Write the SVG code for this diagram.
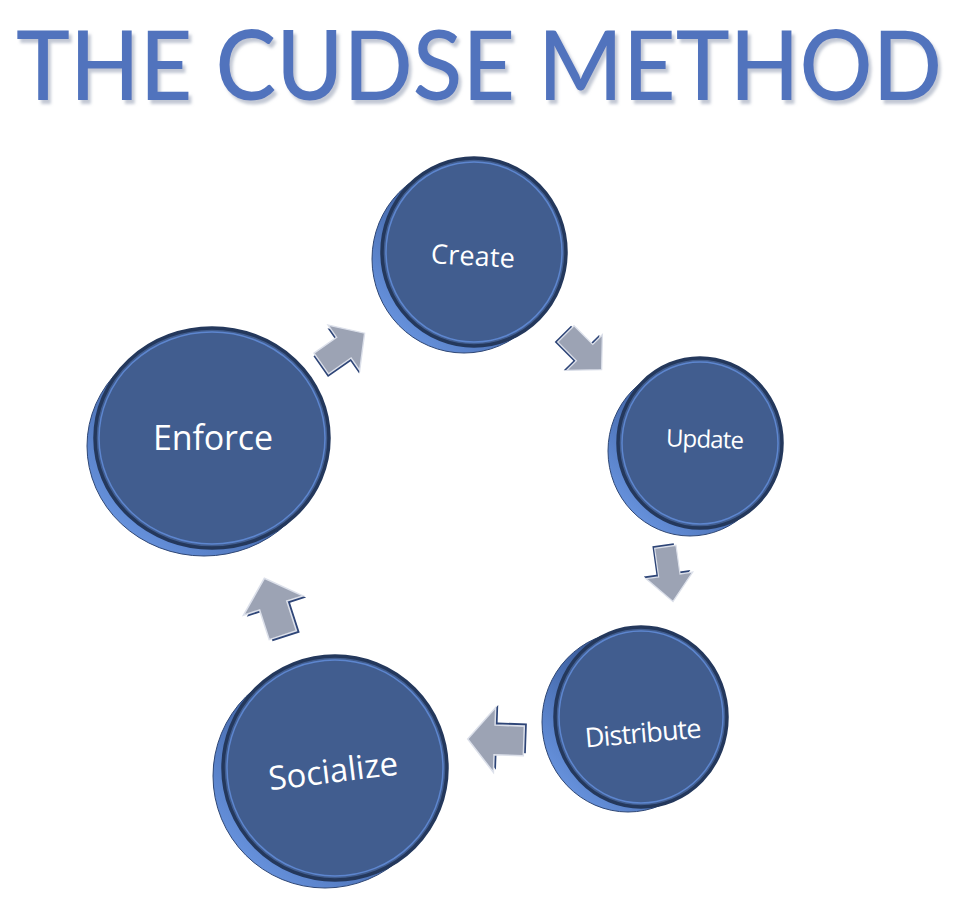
<svg xmlns="http://www.w3.org/2000/svg" width="975" height="908" viewBox="0 0 975 908">
<defs>
<linearGradient id="rimGrad" x1="1" y1="0" x2="0" y2="1">
<stop offset="0" stop-color="#22365B"/>
<stop offset="0.45" stop-color="#3F62A3"/>
<stop offset="1" stop-color="#74A2F0"/>
</linearGradient>
<filter id="titleShadow" x="-5%" y="-20%" width="110%" height="150%">
<feDropShadow dx="3" dy="4" stdDeviation="1.5" flood-color="#9AA3B8" flood-opacity="0.6"/>
</filter>
<path id="arrowShape" d="M-22,-11 L2,-11 L2,-24 L24,0 L2,24 L2,11 L-22,11 Z"/>
</defs>
<style>
.rim{fill:url(#rimGrad);stroke:#2F4775;stroke-width:1}
.face{fill:#415D8F;stroke:#24385C;stroke-width:3.5}
.bevel{fill:none;stroke:#5D86CF;stroke-width:1.5}
.lbl{fill:#FFFFFF;font-family:"Open Sans","Noto Sans","DejaVu Sans",sans-serif;text-anchor:middle;dominant-baseline:central}
.arrShadow{fill:#2E4577}
.arr{fill:#9CA3B4;stroke:#DCE0EA;stroke-width:1.2}
.title{font-family:Lato,"Open Sans","DejaVu Sans",sans-serif;font-size:97px;font-weight:500}
</style>
<rect width="975" height="908" fill="#FFFFFF"/>
<g id="title">
<text class="title" x="16" y="100" fill="#5173BD" filter="url(#titleShadow)" textLength="926" lengthAdjust="spacingAndGlyphs">THE CUDSE METHOD</text>
</g>
<g id="connectors">
<g transform="translate(342,349) rotate(-35) scale(1.15,1.15)"><use href="#arrowShape" class="arrShadow" x="-2" y="2"/><use href="#arrowShape" class="arr"/></g>
<g transform="translate(583,351) rotate(45) scale(1.1,1.05)"><use href="#arrowShape" class="arrShadow" x="-2" y="2"/><use href="#arrowShape" class="arr"/></g>
<g transform="translate(669,573) rotate(82) scale(1.2,0.98)"><use href="#arrowShape" class="arrShadow" x="-2" y="2"/><use href="#arrowShape" class="arr"/></g>
<g transform="translate(497,740) rotate(182) scale(1.22,1.35)"><use href="#arrowShape" class="arrShadow" x="-2" y="2"/><use href="#arrowShape" class="arr"/></g>
<g transform="translate(274,608) rotate(-108) scale(1.3,1.3)"><use href="#arrowShape" class="arrShadow" x="-2" y="2"/><use href="#arrowShape" class="arr"/></g>
</g>
<g id="node-create">
<ellipse class="rim" cx="464" cy="259" rx="92" ry="94"/>
<ellipse class="face" cx="474" cy="252" rx="92" ry="94"/>
<ellipse class="bevel" cx="474" cy="252" rx="88" ry="90"/>
<text class="lbl" x="473" y="255" font-size="27" textLength="84" transform="rotate(3 473 255)">Create</text>
</g>
<g id="node-update">
<ellipse class="rim" cx="690" cy="451" rx="82" ry="85"/>
<ellipse class="face" cx="700" cy="443" rx="82" ry="85"/>
<ellipse class="bevel" cx="700" cy="443" rx="78" ry="81"/>
<text class="lbl" x="705" y="438" font-size="24" textLength="78" transform="rotate(2 705 438)">Update</text>
</g>
<g id="node-distribute">
<ellipse class="rim" cx="628" cy="722" rx="86" ry="90"/>
<ellipse class="face" cx="641" cy="717" rx="86" ry="90"/>
<ellipse class="bevel" cx="641" cy="717" rx="82" ry="86"/>
<text class="lbl" x="643" y="732" font-size="27" textLength="117" transform="rotate(-5 643 732)">Distribute</text>
</g>
<g id="node-socialize">
<ellipse class="rim" cx="325" cy="776" rx="112" ry="112"/>
<ellipse class="face" cx="335" cy="768" rx="112" ry="112"/>
<ellipse class="bevel" cx="335" cy="768" rx="108" ry="108"/>
<text class="lbl" x="333" y="770" font-size="33" textLength="130" transform="rotate(-7 333 770)">Socialize</text>
</g>
<g id="node-enforce">
<ellipse class="rim" cx="204" cy="446" rx="117" ry="110"/>
<ellipse class="face" cx="212" cy="438" rx="117" ry="110"/>
<ellipse class="bevel" cx="212" cy="438" rx="113" ry="106"/>
<text class="lbl" x="213" y="437" font-size="34" textLength="120">Enforce</text>
</g>
</svg>
